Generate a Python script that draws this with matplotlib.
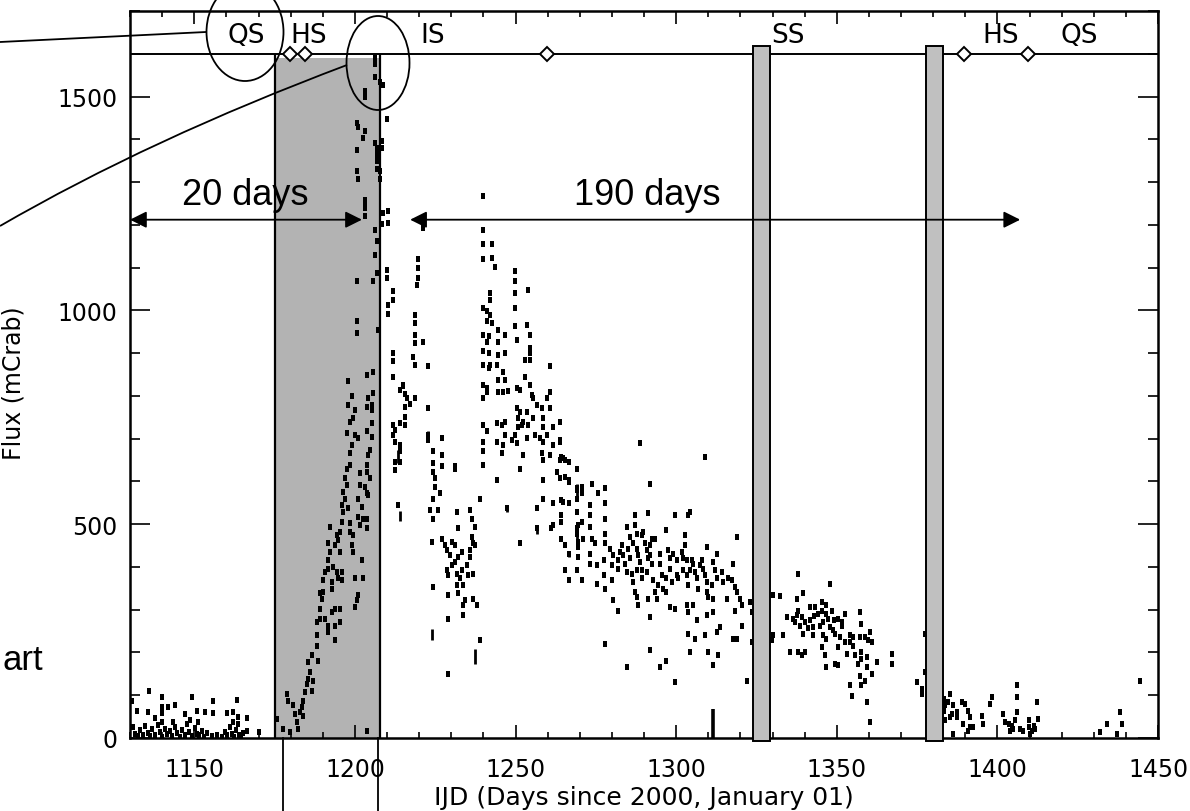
import matplotlib
matplotlib.use('Agg')
import matplotlib.pyplot as plt
from matplotlib.patches import Ellipse, Rectangle, PathPatch
from matplotlib.lines import Line2D
from matplotlib.path import Path

# ---------------- data ----------------
q_day = [1136.0, 1139.9, 1149.2, 1155.9, 1163.2, 1130.5, 1144.0, 1141.9, 1139.9, 1132.1, 1135.7, 1139.9,
         1147.1, 1150.8, 1153.3, 1155.9, 1160.1, 1162.2, 1163.7, 1166.5, 1137.8, 1139.9, 1143.5, 1148.7,
         1151.3, 1162.2, 1163.7, 1166.5, 1170.0,
         1130.8, 1131.5, 1132.4, 1133.2, 1133.9, 1134.7, 1135.5, 1136.2, 1137.0, 1137.8, 1138.6, 1139.3,
         1140.1, 1140.9, 1141.6, 1142.4, 1143.2, 1143.9, 1144.7, 1145.5, 1146.2, 1147.0, 1147.8, 1148.5,
         1149.3, 1150.1, 1150.8, 1151.6, 1152.4, 1153.1, 1154.0, 1155.5, 1157.0, 1158.5, 1159.6, 1160.3,
         1161.0, 1161.7, 1162.4, 1163.0, 1163.8, 1164.5, 1165.3]
q_flux = [111, 97, 97, 87, 90, 87, 76, 72, 72, 62, 60, 59,
          56, 63, 60, 58, 59, 60, 48, 46, 46, 38, 37, 41,
          37, 37, 33, 17, 15,
          25, 10, 5, 18, 8, 28, 12, 4, 20, 7, 30, 14,
          3, 22, 9, 16, 5, 26, 11, 3, 19, 8, 33, 14,
          4, 23, 10, 6, 17, 3, 12, 5, 8, 3, 14, 6,
          25, 10, 3, 18, 8, 4, 12]

r_day = [1175.7, 1177.7, 1178.8, 1179.3, 1180.8, 1181.4, 1181.9, 1182.9, 1183.5, 1184.0, 1184.5, 1185.0,
         1185.5, 1186.0, 1185.5, 1186.6, 1188.6, 1187.1, 1186.6, 1184.0, 1182.4, 1179.8, 1203.7,
         1188.1, 1188.1, 1188.1, 1189.1, 1190.7, 1191.7, 1192.8, 1191.7, 1193.8, 1193.8, 1195.4, 1193.8,
         1195.4, 1189.1, 1189.7, 1189.1, 1190.2, 1192.8, 1192.8, 1190.2, 1190.7, 1191.7, 1193.3, 1194.3,
         1194.8, 1195.9, 1195.9, 1191.7, 1192.3, 1191.7, 1193.8, 1194.8, 1195.4, 1194.3, 1195.4, 1192.3,
         1195.9, 1196.4, 1195.9, 1196.9, 1196.4, 1198.0, 1198.5, 1198.5, 1199.5, 1199.0, 1199.5, 1202.1,
         1202.6, 1200.0, 1201.1, 1200.6, 1200.0, 1201.1, 1201.6, 1202.6, 1203.7, 1203.7, 1201.1, 1202.1,
         1201.6, 1203.1, 1203.7, 1204.2, 1201.6, 1203.7, 1204.7, 1197.4, 1196.9, 1197.4, 1198.5, 1198.5,
         1199.0, 1197.4, 1198.5, 1199.5, 1198.0, 1200.0, 1201.1, 1204.2, 1203.7, 1204.7, 1205.2, 1204.2,
         1205.2, 1205.7,
         1198.0, 1199.0, 1200.0, 1203.7, 1205.2, 1205.2, 1203.7, 1203.7, 1205.7, 1200.6, 1200.6, 1207.3,
         1200.6, 1205.7, 1206.8, 1206.3, 1206.3, 1203.1, 1203.1, 1206.8, 1203.1, 1203.1, 1200.6, 1207.8,
         1206.8, 1200.6, 1206.8, 1206.3, 1203.1, 1200.6, 1206.8, 1206.8, 1206.8, 1201.1, 1202.6, 1201.1,
         1203.1, 1203.1, 1206.3, 1206.3, 1206.3, 1207.8]
r_flux = [44, 21, 103, 87, 76, 56, 37, 60, 72, 87, 107, 127,
          138, 154, 177, 193, 181, 134, 111, 52, 21, 13, 17,
          216, 240, 271, 279, 279, 263, 295, 248, 228, 263, 271, 302,
          302, 302, 326, 338, 342, 349, 365, 369, 388, 396, 400, 388,
          373, 369, 388, 416, 435, 455, 451, 462, 482, 474, 435, 494,
          505, 529, 545, 560, 576, 537, 502, 482, 474, 451, 435, 416,
          373, 373, 334, 322, 306, 517, 498, 513, 513, 490, 560, 541,
          591, 587, 572, 568, 619, 623, 607, 591, 607, 630, 638, 666,
          685, 713, 740, 748, 779, 708, 701, 662, 638, 673, 705, 795,
          779, 806,
          834, 799, 767, 775, 767, 736, 717, 849, 857, 974, 947, 955,
          1068, 1068, 1088, 1130, 1189, 1259, 1247, 1162, 1240, 1220, 1326, 1326,
          1349, 1376, 1373, 1392, 1420, 1439, 1380, 1360, 1330, 1306, 1404, 1428,
          1498, 1514, 1545, 1575, 1590, 1533]

e_day = [1208.4, 1209.9, 1208.9, 1208.4, 1207.8, 1208.9, 1210.4, 1208.4, 1210.4, 1209.9, 1212.0, 1210.4,
         1218.7, 1218.7, 1219.7, 1212.0, 1215.1, 1218.2, 1212.0, 1212.5, 1215.6, 1214.0, 1213.5, 1218.7,
         1212.5, 1215.1, 1221.3, 1219.7, 1219.7, 1219.3, 1209.9, 1211.8, 1210.4, 1218.7, 1218.7, 1221.1,
         1212.0, 1218.7, 1222.9, 1211.8, 1214.1, 1215.6, 1216.1, 1215.6, 1217.2, 1222.9, 1214.1, 1215.6,
         1212.0, 1212.5, 1214.1, 1214.1, 1212.5, 1222.9, 1222.9]
e_flux = [1396, 1447, 1526, 1380, 1306, 1228, 1232, 1201, 1205, 1095, 1045, 1013,
          990, 943, 1119, 900, 822, 892, 732, 720, 751, 685, 545, 795,
          646, 826, 1193, 1099, 1076, 1060, 1076, 1025, 992, 970, 924, 927,
          881, 873, 869, 845, 814, 804, 795, 773, 781, 771, 736, 732,
          709, 693, 670, 646, 627, 709, 697]

i_day = [1240.0, 1240.0, 1240.0, 1242.6, 1240.0, 1242.6, 1243.6, 1249.9, 1249.9, 1249.9, 1249.9, 1254.0,
         1242.1, 1242.1, 1240.0, 1241.0, 1242.1, 1241.0, 1242.6, 1249.9, 1253.5, 1254.5, 1240.0, 1241.6,
         1241.0, 1244.7, 1244.7, 1246.7, 1250.4, 1254.5, 1254.5, 1240.0, 1241.6, 1244.7, 1246.7, 1242.1,
         1240.0, 1241.6, 1244.1, 1253.0, 1254.5, 1260.7, 1244.7, 1246.2, 1246.7, 1253.0, 1240.0, 1241.0,
         1244.7, 1246.2, 1247.8, 1250.4, 1251.5, 1254.5, 1255.0, 1255.5, 1240.0, 1241.0, 1260.7, 1259.7,
         1256.6, 1258.1, 1260.7, 1250.4, 1251.5, 1253.5, 1250.9, 1250.9, 1252.4, 1254.0, 1255.5, 1258.7,
         1258.7, 1261.7, 1263.9, 1244.1, 1245.7, 1246.7, 1240.0, 1241.0,
         1227.0, 1224.4, 1227.0, 1227.0, 1231.2, 1224.4, 1224.4, 1224.9, 1224.9, 1226.5, 1224.4, 1223.4,
         1226.0, 1224.4, 1223.9, 1227.0, 1228.0, 1230.1, 1231.2, 1231.7, 1232.2, 1235.8, 1236.4, 1237.4,
         1236.4, 1236.9, 1235.8, 1237.4, 1228.6, 1229.6, 1231.2, 1232.2, 1233.2, 1230.1, 1228.6, 1229.1,
         1231.7, 1233.2, 1234.8, 1235.8, 1235.3, 1236.9, 1232.7, 1233.8, 1231.7, 1232.2, 1229.1, 1234.3,
         1233.8, 1236.9, 1237.9, 1224.4, 1229.1, 1233.8, 1239.0, 1229.1,
         1244.1, 1247.2, 1239.0, 1240.0, 1240.0, 1240.0, 1231.2, 1251.5, 1252.4, 1258.7, 1258.7, 1258.7,
         1256.6, 1256.6, 1261.2, 1251.5, 1261.7, 1264.3, 1264.3, 1262.8, 1263.9, 1264.9, 1266.5, 1266.5,
         1269.0, 1269.0, 1269.0, 1269.5, 1269.5, 1265.4, 1266.5, 1261.7, 1261.7, 1263.9, 1264.3, 1260.7,
         1259.7, 1257.6, 1258.1, 1258.7, 1256.1, 1253.5, 1250.4, 1248.8, 1246.2, 1245.7, 1244.1, 1246.7,
         1249.9, 1251.9]
i_flux = [1267, 1189, 1156, 1156, 1119, 1123, 1101, 1092, 1068, 1041, 1006, 1048,
          1041, 1025, 1006, 998, 990, 974, 970, 963, 966, 943, 943, 939,
          927, 955, 927, 943, 931, 912, 900, 904, 900, 896, 900, 873,
          873, 865, 873, 884, 884, 869, 838, 857, 838, 845, 826, 818,
          810, 810, 812, 818, 814, 826, 802, 795, 795, 810, 810, 795,
          779, 771, 771, 771, 763, 763, 748, 728, 740, 732, 748, 748,
          728, 728, 740, 736, 732, 740, 732, 717,
          701, 670, 662, 635, 635, 642, 623, 607, 588, 572, 560, 533,
          533, 513, 459, 466, 451, 459, 451, 529, 490, 533, 513, 494,
          470, 455, 439, 451, 439, 427, 412, 424, 435, 404, 392, 380,
          384, 392, 404, 424, 380, 384, 373, 357, 357, 338, 334, 322,
          310, 326, 310, 353, 279, 287, 228, 150,
          603, 537, 560, 638, 670, 693, 630, 630, 662, 650, 603, 560,
          537, 490, 490, 455, 549, 556, 521, 623, 607, 654, 646, 599,
          630, 584, 560, 498, 459, 451, 431, 498, 685, 693, 658, 662,
          709, 701, 666, 693, 709, 701, 689, 697, 685, 666, 693, 709,
          709, 732]

d_day = [1263.9, 1263.9, 1265.4, 1265.4, 1266.5, 1264.9, 1266.5, 1264.3, 1264.3, 1265.4, 1266.5, 1269.0,
         1270.6, 1270.6, 1273.7, 1275.8, 1277.9, 1277.9, 1273.2, 1269.0, 1269.0, 1270.6, 1273.2, 1273.2,
         1277.9, 1277.9, 1269.0, 1271.1, 1273.7, 1274.8, 1269.5, 1269.5, 1269.0, 1270.6, 1273.2, 1273.2,
         1275.3, 1275.3, 1277.4, 1277.9, 1277.4, 1277.9, 1279.4, 1279.9, 1279.9, 1280.4, 1282.0, 1282.0,
         1280.4, 1282.0, 1282.5, 1283.0, 1283.6, 1284.1, 1284.6, 1285.7, 1285.1, 1285.7, 1284.6, 1286.2,
         1286.7, 1287.2, 1287.2, 1287.7, 1286.7, 1287.7, 1288.2, 1288.8, 1287.7, 1289.3, 1289.3, 1287.2,
         1287.7, 1288.2, 1289.3, 1289.8, 1290.3, 1290.9, 1291.4, 1291.9, 1291.9, 1292.4, 1292.4, 1293.4,
         1291.4, 1290.9, 1291.4, 1291.9, 1292.9, 1293.4, 1294.0, 1294.5, 1295.0, 1295.0, 1295.5, 1296.0,
         1297.0, 1297.0, 1297.6, 1298.1, 1298.1, 1297.0, 1298.6, 1298.1, 1299.7, 1299.7, 1299.1, 1300.2,
         1300.2, 1300.7, 1301.7, 1302.2, 1302.2, 1302.8, 1302.8, 1303.8, 1304.3, 1303.3, 1303.3, 1303.8,
         1304.3, 1304.8, 1305.3, 1305.9, 1306.4, 1306.9, 1307.4, 1307.9, 1308.4, 1309.0, 1309.5, 1309.5,
         1309.5, 1310.0, 1311.1, 1311.6, 1312.1, 1312.6, 1312.6, 1311.6, 1311.6, 1303.3, 1303.8, 1305.3,
         1306.4, 1303.8, 1305.9, 1304.3, 1309.0, 1310.0, 1312.6, 1313.7, 1313.1, 1311.6, 1309.5, 1314.2,
         1314.7, 1315.8, 1316.3, 1317.3, 1318.4, 1318.9, 1320.0, 1320.5, 1318.4, 1317.8, 1317.8, 1318.9,
         1320.5, 1322.0, 1323.0, 1323.5, 1323.5, 1318.9, 1309.0, 1291.9, 1288.8, 1277.9, 1284.6, 1291.9,
         1295.0, 1297.0, 1299.7]
d_flux = [697, 650, 650, 611, 603, 552, 549, 506, 466, 392, 369, 580,
          587, 572, 593, 572, 584, 549, 545, 529, 490, 506, 521, 494,
          513, 478, 478, 466, 466, 455, 447, 424, 392, 369, 431, 408,
          404, 361, 416, 455, 380, 349, 443, 404, 369, 427, 416, 396,
          322, 298, 435, 451, 427, 408, 494, 470, 443, 420, 388, 384,
          365, 521, 498, 478, 455, 443, 427, 412, 392, 392, 373, 342,
          330, 310, 474, 482, 455, 439, 420, 451, 427, 408, 466, 466,
          525, 388, 326, 283, 369, 342, 326, 357, 431, 408, 380, 349,
          342, 486, 439, 420, 396, 373, 365, 306, 302, 521, 431, 416,
          380, 373, 435, 420, 392, 474, 451, 521, 529, 416, 380, 357,
          392, 416, 408, 388, 373, 349, 404, 416, 396, 380, 447, 365,
          342, 330, 357, 412, 392, 431, 373, 326, 295, 310, 295, 310,
          275, 244, 232, 201, 240, 201, 248, 259, 193, 170, 287, 388,
          365, 326, 373, 369, 353, 342, 326, 310, 298, 408, 232, 232,
          263, 134, 318, 295, 224, 470, 658, 595, 689, 220, 166, 205,
          166, 181, 131]

s_day = [1330.3, 1332.3, 1330.3, 1329.8, 1333.4, 1338.0, 1337.5, 1339.6, 1334.4, 1336.5, 1338.0, 1337.5,
         1339.1, 1337.0, 1338.6, 1340.1, 1341.7, 1343.2, 1345.3, 1346.8, 1348.4, 1345.3, 1344.3, 1341.7,
         1342.7, 1344.8, 1345.8, 1347.4, 1349.0, 1350.5, 1351.5, 1347.9, 1347.9, 1339.6, 1342.7, 1345.8,
         1346.8, 1349.5, 1351.0, 1352.6, 1354.1, 1355.2, 1357.2, 1357.2, 1357.7, 1358.8, 1360.4, 1359.8,
         1360.9, 1352.6, 1354.1, 1350.5, 1353.1, 1355.7, 1357.7, 1359.3, 1357.7, 1346.3, 1345.3, 1349.5,
         1350.5, 1346.8, 1338.0, 1339.1, 1340.1, 1335.5, 1356.7, 1359.3, 1362.4, 1367.1, 1367.1, 1357.2,
         1358.8, 1360.9, 1354.1, 1354.6, 1357.7, 1359.3, 1360.4, 1374.9, 1376.4, 1376.4, 1377.5, 1377.5,
         1346.8, 1351.5, 1343.0, 1348.9, 1355.0, 1341.0]
s_flux = [335, 332, 240, 228, 240, 384, 326, 338, 283, 279, 298, 287,
          283, 271, 263, 271, 306, 306, 319, 310, 298, 298, 291, 275,
          259, 263, 271, 279, 275, 279, 271, 361, 259, 244, 240, 240,
          232, 244, 236, 291, 240, 236, 236, 295, 267, 236, 248, 228,
          224, 224, 224, 212, 197, 193, 201, 189, 185, 193, 212, 173,
          170, 166, 201, 193, 201, 201, 173, 166, 177, 197, 173, 146,
          134, 150, 123, 99, 123, 84, 37, 131, 115, 103, 244, 154,
          291, 263, 285, 252, 215, 257]

l_day = [1383.3, 1383.8, 1383.3, 1383.8, 1385.3, 1384.7, 1386.3, 1387.3, 1385.8, 1385.3, 1387.3, 1388.9,
         1389.9, 1390.9, 1391.5, 1389.4, 1391.5, 1392.5, 1390.9, 1386.3, 1395.1, 1395.6, 1397.7, 1398.2,
         1401.9, 1402.4, 1403.5, 1404.5, 1405.0, 1405.6, 1404.0, 1406.0, 1406.0, 1406.0, 1407.1, 1408.1,
         1409.7, 1409.7, 1410.7, 1411.3, 1410.2, 1412.3, 1412.8, 1411.7, 1432.0, 1434.0, 1438.2, 1438.7,
         1437.2, 1444.4]
l_flux = [91, 76, 64, 41, 103, 84, 76, 60, 56, 48, 48, 84,
          80, 64, 48, 33, 25, 25, 17, 9, 52, 33, 80, 95,
          56, 37, 33, 29, 21, 41, 17, 60, 123, 95, 21, 17,
          41, 25, 17, 29, 9, 84, 45, 21, 13, 33, 60, 33,
          9, 134]

# long vertical error dashes: day, low flux, high flux
dash_day = [1311.6, 1223.9, 1237.4, 1214.1, 1213.5, 1222.9, 1247.2, 1256.6, 1266.5, 1269.0, 1269.0]
dash_lo = [0, 228, 173, 508, 642, 693, 529, 478, 424, 555, 455]
dash_hi = [68, 256, 209, 530, 673, 717, 541, 497, 438, 595, 498]

# state annotations
state_names = ['QS', 'HS', 'IS', 'SS', 'HS', 'QS']
state_days = [1160.2, 1179.8, 1220.3, 1329.7, 1395.2, 1419.5]
transition_days = [1179.8, 1184.5, 1259.7, 1389.6, 1409.5]
state_level = 1600
rise_band = (1175.0, 1207.8)
ss_bars = [(1324.0, 1329.2), (1377.8, 1383.0)]
arrow_20 = (1130.0, 1202.2)
arrow_190 = (1217.2, 1407.1)
arrow_level = 1212

x_ticks = [1150, 1200, 1250, 1300, 1350, 1400, 1450]
y_ticks = [0, 500, 1000, 1500]

# ---------------- figure ----------------
W, H = 1190, 812
fig = plt.figure(figsize=(W / 100, H / 100), dpi=100)
ax = fig.add_axes([130 / W, 1 - 739 / H, (1158 - 130) / W, (739 - 12) / H])
ax.set_xlim(1130, 1450)
ax.set_ylim(0, 1700)

def fx(px):
    return px / W

def fy(py):
    return 1 - py / H

# shaded rise band
ax.axvspan(rise_band[0], rise_band[1], ymin=0, ymax=1590 / 1700, color='#b3b3b3', lw=0, zorder=1)
ax.vlines(rise_band, 0, state_level, colors='k', lw=1.6, zorder=4)

# soft-state bars
for a, b in ss_bars:
    ax.add_patch(Rectangle((a, -8), b - a, 1625, facecolor='#c0c0c0', edgecolor='k',
                           lw=1.4, zorder=5, clip_on=False))

# data
rect = [(-0.55, -1), (0.55, -1), (0.55, 1), (-0.55, 1)]
for dx, dy in [(q_day, q_flux), (r_day, r_flux), (e_day, e_flux), (i_day, i_flux),
               (d_day, d_flux), (s_day, s_flux), (l_day, l_flux)]:
    ax.plot(dx, dy, ls='none', marker=rect, markersize=4.2, color='k', mew=0, zorder=3)
ax.vlines(dash_day[:1], dash_lo[:1], dash_hi[:1], colors='k', lw=2.6, zorder=3)
ax.vlines(dash_day[1:], dash_lo[1:], dash_hi[1:], colors='k', lw=2.0, zorder=3)

# state line, diamonds and labels
ax.axhline(state_level, color='k', lw=1.4, zorder=4)
ax.plot(transition_days, [state_level] * len(transition_days), ls='none', marker='D',
        markersize=7.5, mfc='white', mec='k', mew=1.4, zorder=6, clip_on=False)
for name, d in zip(state_names, state_days):
    ax.text(d, 1643, name, fontsize=19, ha='left', va='center', zorder=6)

# arrows
for (a, b) in [arrow_20, arrow_190]:
    ax.annotate('', xy=(a, arrow_level), xytext=(b, arrow_level),
                arrowprops=dict(arrowstyle='<|-|>', color='k', lw=1.3,
                                mutation_scale=25, shrinkA=0, shrinkB=0), zorder=6)
ax.text(1165.8, 1272, '20 days', fontsize=26, family=['Liberation Sans', 'DejaVu Sans'],
        ha='center', va='center', zorder=7)
ax.text(1290.9, 1272, '190 days', fontsize=26, family=['Liberation Sans', 'DejaVu Sans'],
        ha='center', va='center', zorder=7)

# axes styling
ax.set_xticks(x_ticks)
ax.set_yticks(y_ticks)
ax.set_xticks(range(1130, 1451, 10), minor=True)
ax.set_yticks(range(0, 1701, 100), minor=True)
ax.tick_params(axis='x', which='major', direction='in', length=9.5, width=1.2, top=True,
               labelsize=17, pad=14)
ax.tick_params(axis='x', which='minor', direction='in', length=4, width=1.2, top=True)
ax.tick_params(axis='y', which='major', direction='in', length=14.4, width=1.2, right=True,
               labelsize=17, pad=9)
ax.tick_params(axis='y', which='minor', direction='in', length=7.2, width=1.2, right=True)
for s in ax.spines.values():
    s.set_linewidth(1.8)
ax.set_xlabel('IJD (Days since 2000, January 01)', fontsize=18)
ax.xaxis.set_label_coords(0.5, (739 - 786) / 727)
ax.set_ylabel('Flux (mCrab)', fontsize=17)
ax.yaxis.set_label_coords((26 - 130) / 1028, 0.49)

# slide annotations (figure coordinates)
fig.add_artist(Ellipse((fx(245), fy(33)), 77 / W, 98 / H, fill=False, lw=1.3,
                       transform=fig.transFigure, zorder=10))
fig.add_artist(Ellipse((fx(378), fy(64)), 63 / W, 94 / H, fill=False, lw=1.3,
                       transform=fig.transFigure, zorder=10))
fig.add_artist(Line2D([fx(0), fx(206)], [fy(43), fy(33)], lw=1.3, color='k',
                      transform=fig.transFigure, zorder=10))
curve = Path([(fx(0), fy(227)), (fx(150), fy(140)), (fx(347), fy(66))],
             [Path.MOVETO, Path.CURVE3, Path.CURVE3])
fig.add_artist(PathPatch(curve, fill=False, lw=1.3, edgecolor='k',
                         transform=fig.transFigure, zorder=10))
fig.add_artist(Line2D([fx(283), fx(283)], [fy(739), fy(812)], lw=1.3, color='k',
                      transform=fig.transFigure, zorder=10))
fig.add_artist(Line2D([fx(378), fx(378)], [fy(739), fy(812)], lw=1.3, color='k',
                      transform=fig.transFigure, zorder=10))
fig.text(fx(2), fy(670), 'art', fontsize=25, ha='left', va='baseline',
         family=['Liberation Sans', 'DejaVu Sans'])

fig.savefig('out.png', dpi=100)
